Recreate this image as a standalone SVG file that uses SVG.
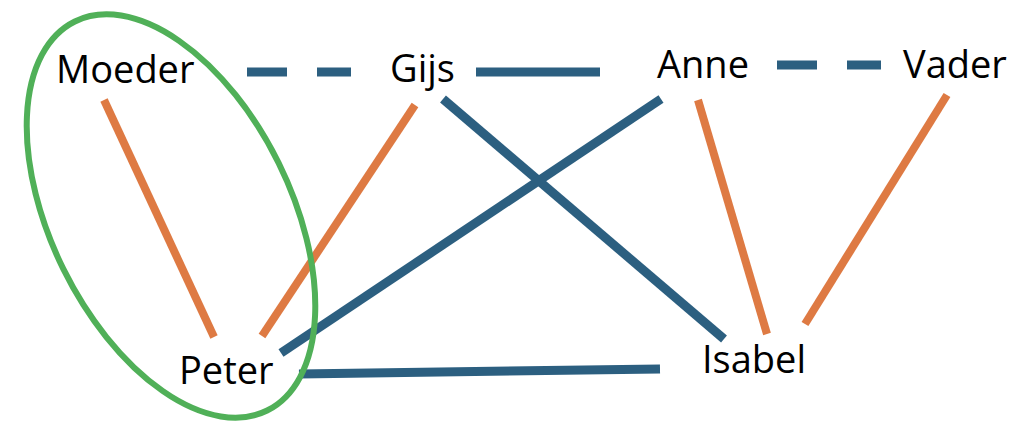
<svg xmlns="http://www.w3.org/2000/svg" width="1024" height="440" viewBox="0 0 1024 440">
<style>
.bg{fill:#ffffff}
.lbl{font-family:"Open Sans","Liberation Sans",sans-serif;font-size:38px;fill:#000000}
.blue{stroke:#2C5F80;stroke-width:9;fill:none}
.orange{stroke:#DE7A43;stroke-width:8;fill:none}
.dash{stroke-dasharray:40 30}
.group{stroke:#50B058;stroke-width:6;fill:none}
</style>
<rect class="bg" x="0" y="0" width="1024" height="440"/>
<g id="connectors">
<line class="blue dash" x1="247" y1="72" x2="351" y2="72"/>
<line class="blue" x1="476" y1="72" x2="600" y2="72"/>
<line class="blue dash" x1="777" y1="65" x2="881" y2="65"/>
<line class="orange" x1="104" y1="100" x2="214" y2="337"/>
<line class="orange" x1="415" y1="105" x2="262" y2="336"/>
<line class="blue" x1="443" y1="99" x2="724" y2="339"/>
<line class="blue" x1="661" y1="99" x2="281" y2="353"/>
<line class="orange" x1="698" y1="100" x2="767" y2="334"/>
<line class="orange" x1="947" y1="95" x2="805" y2="324"/>
<line class="blue" x1="299" y1="374" x2="660" y2="369"/>
</g>
<g id="group-ellipse">
<ellipse class="group" cx="171" cy="216" rx="217" ry="120" transform="rotate(63.7 171 216)"/>
</g>
<g id="node-moeder"><text class="lbl" x="56" y="83">Moeder</text></g>
<g id="node-gijs"><text class="lbl" x="390" y="82">Gijs</text></g>
<g id="node-anne"><text class="lbl" x="657" y="78">Anne</text></g>
<g id="node-vader"><text class="lbl" x="903" y="78">Vader</text></g>
<g id="node-peter"><text class="lbl" x="179" y="384">Peter</text></g>
<g id="node-isabel"><text class="lbl" x="702" y="373">Isabel</text></g>
</svg>
